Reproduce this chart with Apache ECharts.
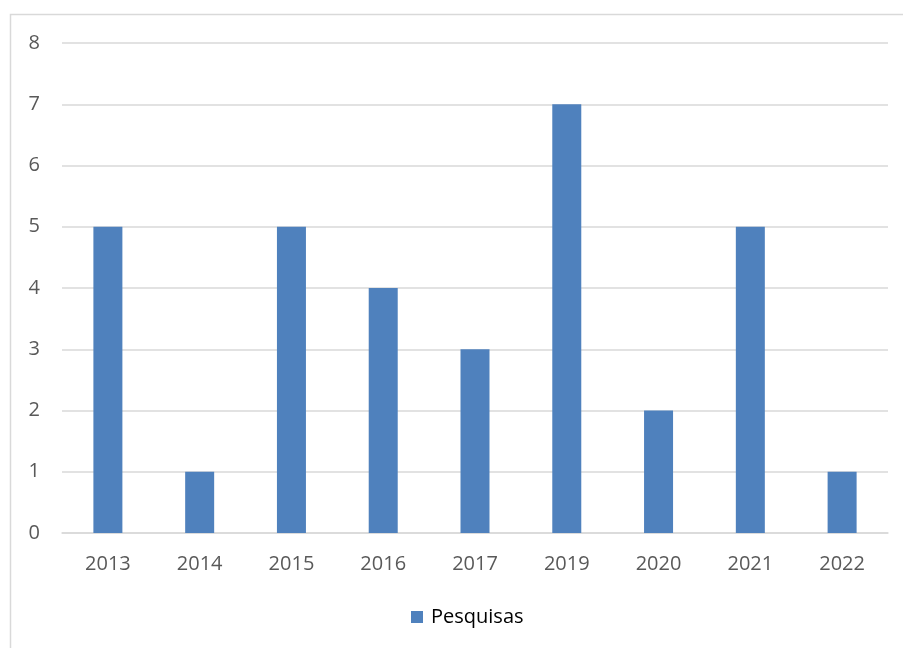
<!DOCTYPE html>
<html>
<head>
<meta charset="utf-8">
<script src="https://cdn.jsdelivr.net/npm/echarts@6/dist/echarts.min.js"></script>
<style>
  html, body { margin: 0; padding: 0; background: #fff; }
  #chart { width: 903px; height: 648px; }
</style>
</head>
<body>
<div id="chart"></div>
<script>
// dados
var anos = ['2013', '2014', '2015', '2016', '2017', '2019', '2020', '2021', '2022'];
var pesquisas = [5, 1, 5, 4, 3, 7, 2, 5, 1];

var chart = echarts.init(document.getElementById('chart'));

var option = {
    animation: false,
    // moldura do gráfico
    graphic: [{
        type: 'rect',
        shape: { x: 10.5, y: 14.5, width: 900, height: 640 },
        style: { fill: 'none', stroke: '#d9d9d9', lineWidth: 1.5 },
        silent: true
    }],
    grid: { left: 62, right: 15, top: 43, bottom: 115 },
    legend: {
        data: ['Pesquisas'],
        bottom: 16,
        left: 406,
        icon: 'rect',
        itemWidth: 12,
        itemHeight: 12,
        textStyle: { fontFamily: 'Open Sans', fontSize: 20, color: '#000', padding: [0, 0, 0, 3] }
    },
    xAxis: {
        type: 'category',
        data: anos,
        axisLine: { lineStyle: { color: '#d9d9d9', width: 1.5 } },
        axisTick: { show: false },
        axisLabel: { fontFamily: 'Open Sans', fontSize: 20, color: '#595959', margin: 21 }
    },
    yAxis: {
        type: 'value',
        min: 0,
        max: 8,
        interval: 1,
        axisLine: { show: false },
        axisTick: { show: false },
        splitLine: { lineStyle: { color: '#d9d9d9', width: 1.5 } },
        axisLabel: { fontFamily: 'Open Sans', fontSize: 20, color: '#595959', margin: 22 }
    },
    series: [{
        name: 'Pesquisas',
        type: 'bar',
        data: pesquisas,
        barWidth: 29,
        itemStyle: { color: '#4f81bd' }
    }]
};

chart.setOption(option);
</script>
</body>
</html>
